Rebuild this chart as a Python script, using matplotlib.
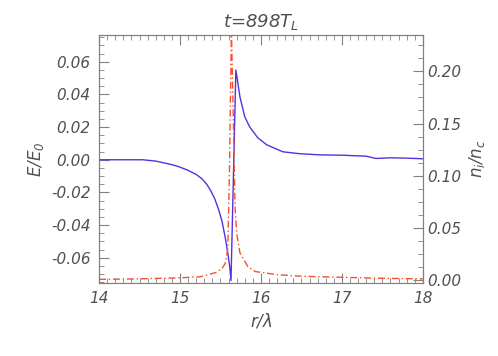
import matplotlib
matplotlib.use('Agg')
import matplotlib.pyplot as plt
import numpy as np
from matplotlib.ticker import MultipleLocator

# electric field E/E0 (left axis)
r_E = [14.0, 14.3, 14.54, 14.7, 14.9, 15.0, 15.1, 15.2, 15.27, 15.33, 15.38,
       15.43, 15.48, 15.52, 15.56, 15.59, 15.615, 15.63, 15.69, 15.74, 15.80,
       15.86, 15.96, 16.07, 16.27, 16.48, 16.73, 17.0, 17.3, 17.42, 17.6, 17.8, 18.0]
E = [0.0, 0.0, 0.0, -0.0008, -0.003, -0.0045, -0.0065, -0.009, -0.0116, -0.015,
     -0.019, -0.024, -0.031, -0.038, -0.048, -0.057, -0.066, -0.074, 0.055, 0.0386,
     0.0263, 0.0202, 0.0135, 0.0092, 0.0049, 0.0037, 0.0030, 0.0028, 0.0022, 0.0008,
     0.0012, 0.0010, 0.0006]

# ion density n_i/n_c (right axis)
r_n = [14.0, 14.5, 15.0, 15.25, 15.44, 15.52, 15.56, 15.59, 15.61, 15.635,
       15.66, 15.68, 15.70, 15.74, 15.84, 15.93, 16.2, 16.5, 17.0, 17.5, 18.0]
n = [0.0005, 0.001, 0.002, 0.003, 0.007, 0.011, 0.016, 0.03, 0.10, 0.24,
     0.15, 0.07, 0.045, 0.026, 0.0125, 0.008, 0.005, 0.0035, 0.0025, 0.0015, 0.001]

gray = '#505050'
plt.rcParams['mathtext.fontset'] = 'dejavusans'
plt.rcParams['mathtext.default'] = 'it'
plt.rcParams['font.style'] = 'italic'
plt.rcParams['axes.edgecolor'] = '#808080'
plt.rcParams['xtick.color'] = '#808080'
plt.rcParams['ytick.color'] = '#808080'
plt.rcParams['xtick.labelcolor'] = gray
plt.rcParams['ytick.labelcolor'] = gray

fig = plt.figure(figsize=(4.98, 3.56), dpi=100)
ax = fig.add_axes([0.199, 0.205, 0.65, 0.697])
ax.plot(r_E, E, color='#5a2ee0', lw=1.0)
ax.set_xlim(14, 18)
ax.set_ylim(-0.0755, 0.0765)
ax.xaxis.set_major_locator(MultipleLocator(1))
ax.xaxis.set_minor_locator(MultipleLocator(0.1))
ax.yaxis.set_major_locator(MultipleLocator(0.02))
ax.yaxis.set_minor_locator(MultipleLocator(0.005))
ax.yaxis.set_major_formatter(plt.FuncFormatter(lambda v, p: '%.2f' % v if abs(v) > 1e-9 else '0.00'))
ax.tick_params(which='both', direction='in', top=True, labelsize=11)
ax.tick_params(which='major', length=7, pad=6)
ax.tick_params(which='minor', length=3.5)
ax.set_xlabel(r'$r/\lambda$', fontsize=12, color=gray)
ax.set_ylabel(r'$E/E_0$', fontsize=12, color=gray)
ax.set_title(r'$t$=898$T_L$', fontsize=13, color=gray, pad=6)

ax2 = ax.twinx()
ax2.plot(r_n, n, color='#f5502a', lw=1.0, linestyle=(0, (5, 2, 1, 2)))
ax2.set_ylim(-0.003, 0.235)
ax2.yaxis.set_major_locator(MultipleLocator(0.05))
ax2.yaxis.set_minor_locator(MultipleLocator(0.0125))
ax2.yaxis.set_major_formatter(plt.FuncFormatter(lambda v, p: '%.2f' % v))
ax2.tick_params(which='both', direction='in', labelsize=11)
ax2.tick_params(which='major', length=7, pad=3)
ax2.tick_params(which='minor', length=3.5)
ax2.set_ylabel(r'$n_i/n_c$', fontsize=12, color=gray)

fig.savefig('out.png', dpi=100)
